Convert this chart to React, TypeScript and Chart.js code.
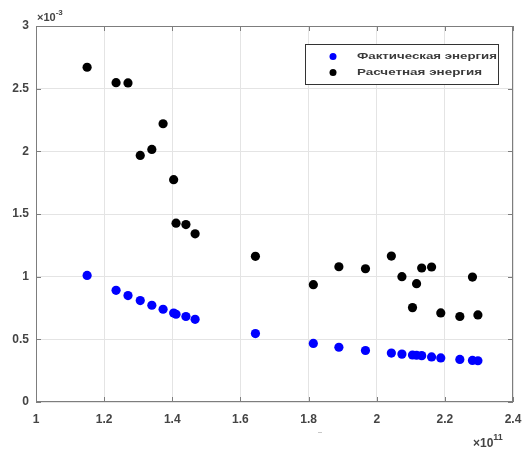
import React, { useEffect, useRef } from "react";
import { Chart, registerables } from "chart.js";

Chart.register(...registerables);

// x in units of 10^11, y in units of 10^-3
const xValues = [1.150, 1.235, 1.270, 1.306, 1.340, 1.373, 1.404, 1.411, 1.440, 1.467, 1.644, 1.814, 1.889, 1.967, 2.043, 2.074, 2.105, 2.117, 2.132, 2.161, 2.188, 2.244, 2.281, 2.297];
const actualEnergy = [1.010, 0.891, 0.849, 0.809, 0.772, 0.740, 0.710, 0.700, 0.682, 0.660, 0.546, 0.467, 0.437, 0.411, 0.390, 0.382, 0.375, 0.373, 0.370, 0.360, 0.352, 0.340, 0.332, 0.329];
const calculatedEnergy = [2.671, 2.548, 2.546, 1.967, 2.015, 2.220, 1.774, 1.427, 1.416, 1.342, 1.162, 0.936, 1.079, 1.063, 1.164, 1.000, 0.753, 0.944, 1.069, 1.077, 0.711, 0.682, 0.997, 0.695];
const seriesNames = ["Фактическая энергия", "Расчетная энергия"];
const seriesColors = ["#0000ff", "#000000"];
const xTickValues = [1, 1.2, 1.4, 1.6, 1.8, 2, 2.2, 2.4];
const yTickValues = [0, 0.5, 1, 1.5, 2, 2.5, 3];
const xExponent = "11";
const yExponent = "-3";

const TEXT = "#444444";
const AXIS = "#7d7d7d";
const GRID = "#e4e4e4";
const FONT = "Liberation Sans, Arial, sans-serif";

const decorPlugin = {
  id: "decor",
  afterDraw(chart: any) {
    const { ctx, chartArea: a, scales } = chart;
    ctx.save();
    // box
    ctx.strokeStyle = AXIS;
    ctx.lineWidth = 1;
    ctx.strokeRect(a.left + 0.5, a.top + 0.5, a.right - a.left - 1, a.bottom - a.top - 1);
    // inward ticks
    const tl = 5;
    ctx.beginPath();
    xTickValues.forEach((v) => {
      const px = Math.round(scales.x.getPixelForValue(v)) + 0.5;
      ctx.moveTo(px, a.bottom);
      ctx.lineTo(px, a.bottom - tl);
      ctx.moveTo(px, a.top);
      ctx.lineTo(px, a.top + tl);
    });
    yTickValues.forEach((v) => {
      const py = Math.round(scales.y.getPixelForValue(v)) + 0.5;
      ctx.moveTo(a.left, py);
      ctx.lineTo(a.left + tl, py);
      ctx.moveTo(a.right, py);
      ctx.lineTo(a.right - tl, py);
    });
    ctx.stroke();

    // exponent labels
    ctx.fillStyle = TEXT;
    ctx.textBaseline = "alphabetic";
    ctx.textAlign = "left";
    ctx.font = `bold 11px ${FONT}`;
    let x0 = a.left + 1;
    let y0 = a.top - 5;
    ctx.fillText("×10", x0, y0);
    let w = ctx.measureText("×10").width;
    ctx.font = `bold 8px ${FONT}`;
    ctx.fillText(yExponent, x0 + w, y0 - 6);

    ctx.font = `bold 12px ${FONT}`;
    x0 = a.right - 40;
    y0 = a.bottom + 45;
    ctx.fillText("×10", x0, y0);
    w = ctx.measureText("×10").width;
    ctx.font = `bold 9px ${FONT}`;
    ctx.fillText(xExponent, x0 + w, y0 - 7);

    // tiny empty xlabel mark
    ctx.fillStyle = "#c8c8c8";
    ctx.fillRect(318, 432, 4, 1);

    // legend
    const lx = 305, ly = 44, lw = 193, lh = 40;
    ctx.fillStyle = "#ffffff";
    ctx.fillRect(lx, ly, lw, lh);
    ctx.strokeStyle = "#333333";
    ctx.lineWidth = 1;
    ctx.strokeRect(lx + 0.5, ly + 0.5, lw, lh);
    seriesNames.forEach((name, i) => {
      const cy = 56.5 + i * 16;
      ctx.fillStyle = seriesColors[i];
      ctx.beginPath();
      ctx.arc(333, cy, 3.5, 0, Math.PI * 2);
      ctx.fill();
      ctx.fillStyle = "#3a3a3a";
      ctx.font = `bold 9px ${FONT}`;
      ctx.textBaseline = "middle";
      const mw = ctx.measureText(name).width;
      const target = i === 0 ? 140 : 125;
      ctx.save();
      ctx.translate(357, cy);
      ctx.scale(target / mw, 1);
      ctx.fillText(name, 0, 0);
      ctx.restore();
    });
    ctx.restore();
  },
};

const zeroPad = (s: any) => {
  s.paddingLeft = 0;
  s.paddingRight = 0;
  s.paddingTop = 0;
  s.paddingBottom = 0;
};

export default function App() {
  const ref = useRef<HTMLCanvasElement>(null);
  useEffect(() => {
    document.body.style.margin = "0";
    const chart = new Chart(ref.current!, {
      type: "scatter",
      data: {
        datasets: [
          {
            label: seriesNames[0],
            data: xValues.map((x, i) => ({ x, y: actualEnergy[i] })),
            backgroundColor: seriesColors[0],
            borderWidth: 0,
            pointRadius: 4.6,
          },
          {
            label: seriesNames[1],
            data: xValues.map((x, i) => ({ x, y: calculatedEnergy[i] })),
            backgroundColor: seriesColors[1],
            borderWidth: 0,
            pointRadius: 4.6,
          },
        ],
      },
      options: {
        responsive: false,
        animation: false,
        layout: { padding: { top: 26, right: 9, left: 0, bottom: 0 } },
        plugins: { legend: { display: false }, tooltip: { enabled: false } },
        scales: {
          x: {
            type: "linear",
            min: 1,
            max: 2.4,
            afterBuildTicks: (s: any) => {
              s.ticks = xTickValues.map((v) => ({ value: v }));
            },
            afterFit: (s: any) => {
              s.height = 50;
              zeroPad(s);
            },
            grid: { color: GRID, drawTicks: false },
            border: { display: false },
            ticks: {
              padding: 10,
              color: TEXT,
              maxRotation: 0,
              font: { family: FONT, size: 12, weight: "bold" },
              callback: (v: any) => String(Math.round(Number(v) * 10) / 10),
            },
          },
          y: {
            type: "linear",
            min: 0,
            max: 3,
            afterBuildTicks: (s: any) => {
              s.ticks = yTickValues.map((v) => ({ value: v }));
            },
            afterFit: (s: any) => {
              s.width = 36;
              zeroPad(s);
            },
            grid: { color: GRID, drawTicks: false },
            border: { display: false },
            ticks: {
              padding: 7,
              color: TEXT,
              font: { family: FONT, size: 12, weight: "bold" },
              callback: (v: any) => String(Math.round(Number(v) * 10) / 10),
            },
          },
        },
      },
      plugins: [decorPlugin],
    });
    return () => chart.destroy();
  }, []);
  return (
    <div style={{ position: "fixed", left: 0, top: 0, width: 522, height: 452, background: "#fff" }}>
      <canvas ref={ref} width={522} height={452} />
    </div>
  );
}
